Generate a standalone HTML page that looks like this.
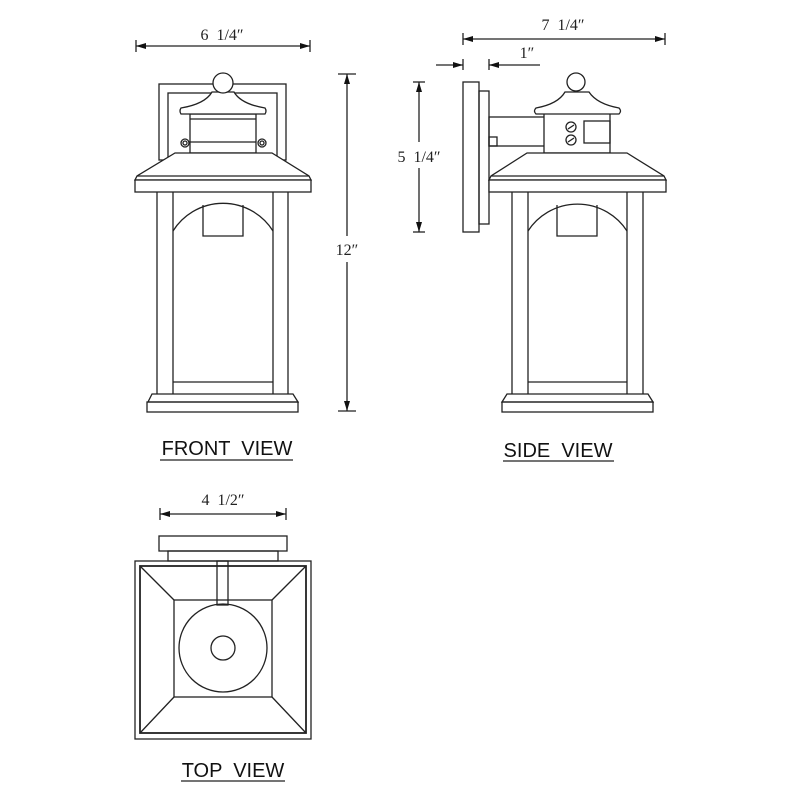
<!DOCTYPE html>
<html><head><style>
html,body{margin:0;padding:0;background:#fff;}
svg{display:block;}
.s{font-family:"Liberation Serif",serif;font-size:16px;fill:#222;white-space:pre;}
.l{font-family:"Liberation Sans",sans-serif;font-size:20px;fill:#111;white-space:pre;}
</style></head><body>
<svg width="800" height="800" viewBox="0 0 800 800" xmlns="http://www.w3.org/2000/svg" fill="none" stroke="#222" stroke-width="1.3">
<defs>
<marker id="a" viewBox="0 0 10 6" refX="10" refY="3" markerWidth="10" markerHeight="6" orient="auto-start-reverse" markerUnits="userSpaceOnUse"><path d="M0,0 L10,3 L0,6z" fill="#111" stroke="none"/></marker>
</defs>

<!-- FRONT VIEW -->
<rect x="159" y="84" width="127" height="76"/>
<rect x="168" y="93" width="109" height="67"/>
<rect x="190" y="114" width="66" height="39" fill="#fff"/>
<line x1="190" y1="119" x2="256" y2="119"/>
<line x1="190" y1="142" x2="256" y2="142"/>
<circle cx="185" cy="143" r="4"/><circle cx="185" cy="143" r="2"/>
<circle cx="262" cy="143" r="4"/><circle cx="262" cy="143" r="2"/>
<path d="M212,92 Q205,104 181,108 Q179,111 181,114 L265,114 Q267,111 265,108 Q241,104 234,92Z" fill="#fff"/>
<circle cx="223" cy="83" r="10" fill="#fff"/>
<path d="M175,153 L272,153 L309,176 L311,180 L135,180 L137,176Z" fill="#fff"/>
<line x1="137" y1="176" x2="309" y2="176"/>
<rect x="135" y="180" width="176" height="12" fill="#fff"/>
<line x1="157" y1="192" x2="157" y2="394"/><line x1="173" y1="192" x2="173" y2="394"/>
<line x1="273" y1="192" x2="273" y2="394"/><line x1="288" y1="192" x2="288" y2="394"/>
<line x1="173" y1="382" x2="273" y2="382"/>
<path d="M173,231 A59,59 0 0 1 273,231"/>
<path d="M203,205 L203,236 L243,236 L243,205"/>
<path d="M152,394 L293,394 L298,402 L148,402Z"/>
<rect x="147" y="402" width="151" height="10"/>

<!-- front dims -->
<line x1="136" y1="40" x2="136" y2="52"/><line x1="310" y1="40" x2="310" y2="52"/>
<line x1="136" y1="46" x2="310" y2="46" marker-start="url(#a)" marker-end="url(#a)"/>
<text class="s" x="222" y="40" text-anchor="middle" stroke="none">6  1/4″</text>
<line x1="338" y1="74" x2="356" y2="74"/><line x1="338" y1="411" x2="356" y2="411"/>
<line x1="347" y1="74" x2="347" y2="236" marker-start="url(#a)"/>
<line x1="347" y1="262" x2="347" y2="411" marker-end="url(#a)"/>
<text class="s" x="347" y="255" text-anchor="middle" stroke="none">12″</text>
<text class="l" x="227" y="455" text-anchor="middle" stroke="none">FRONT  VIEW</text>
<line x1="160" y1="460" x2="293" y2="460"/>

<!-- SIDE VIEW -->
<rect x="463" y="82" width="16" height="150"/>
<rect x="479" y="91" width="10" height="133"/>
<rect x="489" y="117" width="60" height="29"/>
<rect x="489" y="137" width="8" height="9"/>
<rect x="544" y="113" width="66" height="40" fill="#fff"/>
<rect x="584" y="121" width="26" height="22"/>
<circle cx="571" cy="127" r="5"/><line x1="568" y1="129" x2="574" y2="125"/>
<circle cx="571" cy="140" r="5"/><line x1="568" y1="142" x2="574" y2="138"/>
<path d="M565,92 Q558,104 536,108 Q533,111 536,114 L619,114 Q622,111 619,108 Q597,104 589,92Z" fill="#fff"/>
<circle cx="576" cy="82" r="9" fill="#fff"/>
<path d="M527,153 L627,153 L664,176 L666,180 L489,180 L491,176Z" fill="#fff"/>
<line x1="491" y1="176" x2="664" y2="176"/>
<rect x="489" y="180" width="177" height="12" fill="#fff"/>
<line x1="512" y1="192" x2="512" y2="394"/><line x1="528" y1="192" x2="528" y2="394"/>
<line x1="627" y1="192" x2="627" y2="394"/><line x1="643" y1="192" x2="643" y2="394"/>
<line x1="528" y1="382" x2="627" y2="382"/>
<path d="M528,231 A59,59 0 0 1 627,231"/>
<path d="M557,205 L557,236 L597,236 L597,205"/>
<path d="M507,394 L648,394 L653,402 L502,402Z"/>
<rect x="502" y="402" width="151" height="10"/>

<!-- side dims -->
<line x1="463" y1="33" x2="463" y2="45"/><line x1="665" y1="33" x2="665" y2="45"/>
<line x1="463" y1="39" x2="665" y2="39" marker-start="url(#a)" marker-end="url(#a)"/>
<text class="s" x="563" y="30" text-anchor="middle" stroke="none">7  1/4″</text>
<line x1="463" y1="59" x2="463" y2="70"/><line x1="489" y1="59" x2="489" y2="70"/>
<line x1="436" y1="65" x2="463" y2="65" marker-end="url(#a)"/>
<line x1="540" y1="65" x2="489" y2="65" marker-end="url(#a)"/>
<text class="s" x="527" y="58" text-anchor="middle" stroke="none">1″</text>
<line x1="413" y1="82" x2="425" y2="82"/><line x1="413" y1="232" x2="425" y2="232"/>
<line x1="419" y1="82" x2="419" y2="142" marker-start="url(#a)"/>
<line x1="419" y1="168" x2="419" y2="232" marker-end="url(#a)"/>
<text class="s" x="419" y="162" text-anchor="middle" stroke="none">5  1/4″</text>
<text class="l" x="558" y="457" text-anchor="middle" stroke="none">SIDE  VIEW</text>
<line x1="503" y1="461" x2="614" y2="461"/>

<!-- TOP VIEW -->
<line x1="160" y1="508" x2="160" y2="520"/><line x1="286" y1="508" x2="286" y2="520"/>
<line x1="160" y1="514" x2="286" y2="514" marker-start="url(#a)" marker-end="url(#a)"/>
<text class="s" x="223" y="505" text-anchor="middle" stroke="none">4  1/2″</text>
<rect x="159" y="536" width="128" height="15"/>
<rect x="168" y="551" width="110" height="10"/>
<rect x="135" y="561" width="176" height="178"/>
<rect x="140" y="566" width="166" height="167" stroke-width="1.8"/>
<rect x="174" y="600" width="98" height="97"/>
<line x1="140" y1="566" x2="174" y2="600"/><line x1="306" y1="566" x2="272" y2="600"/>
<line x1="140" y1="733" x2="174" y2="697"/><line x1="306" y1="733" x2="272" y2="697"/>
<rect x="217" y="561" width="11" height="44"/>
<circle cx="223" cy="648" r="44"/>
<circle cx="223" cy="648" r="12"/>
<text class="l" x="233" y="777" text-anchor="middle" stroke="none">TOP  VIEW</text>
<line x1="181" y1="781" x2="285" y2="781"/>
</svg>
</body></html>
